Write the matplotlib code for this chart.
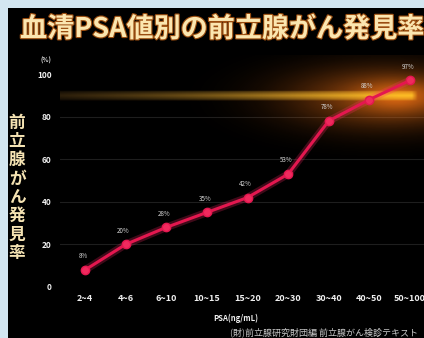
import numpy as np
import matplotlib.pyplot as plt
from matplotlib.patches import Rectangle
import matplotlib.patheffects as pe

plt.rcParams['font.family'] = ['Noto Sans CJK JP', 'DejaVu Sans']

# data
categories = ['2~4', '4~6', '6~10', '10~15', '15~20', '20~30', '30~40', '40~50', '50~100']
rates = [8, 20, 28, 35, 42, 53, 78, 88, 97]
yticks = [0, 20, 40, 60, 80, 100]
ref_level = 90

W, H = 424, 338
fig = plt.figure(figsize=(W / 100, H / 100), dpi=100, facecolor='#d3e6f1')
# black panel
fig.patches.append(Rectangle((8 / W, 0), 1, (H - 8) / H, transform=fig.transFigure,
                             facecolor='black', edgecolor='none', zorder=-1))

ax = fig.add_axes([60 / W, (H - 290) / H, 364 / W, 235 / H], zorder=2)
ax.set_facecolor('none')
xpx = 40.6   # px per category
ypx = 2.13   # px per percent
x0, x1 = -25 / xpx, 8 + 14 / xpx
y0, y1 = -3 / ypx, 100 + 19 / ypx
ax.set_xlim(x0, x1)
ax.set_ylim(y0, y1)
for s in ax.spines.values():
    s.set_visible(False)

# glow + highlighted band at ref level
gx = np.linspace(x0, x1, 500)
gy = np.linspace(y0, y1, 320)
X, Y = np.meshgrid(gx, gy)
PX = (X - x0) * xpx + 60
PY = (Y - y0) * ypx
PYref = (ref_level - y0) * ypx
glow_a = 0.55 * np.exp(-(((PX - 385) / 95) ** 2 + ((PY - PYref + 2) / 30) ** 2)) \
    + 0.35 * np.exp(-(((PX - 400) / 40) ** 2 + ((PY - PYref) / 16) ** 2))
glow_a = np.clip(glow_a, 0, 0.85)
band_half = 5.0
band_core = np.clip(1.0 - np.abs(Y - ref_level) * ypx / band_half, 0, 1) ** 0.5
ramp = np.clip((PX - 60) / 340, 0, 1)
band_a = band_core * (0.3 + 0.7 * ramp) * np.clip((418 - PX) / 6, 0, 1)
glow_rgb = np.array([0.95, 0.45, 0.08])
band_rgb_l = np.array([0.6, 0.42, 0.15])
band_rgb_r = np.array([1.0, 0.75, 0.15])
band_rgb = band_rgb_l[None, None, :] * (1 - ramp[..., None]) + band_rgb_r[None, None, :] * ramp[..., None]
out_a = band_a + glow_a * (1 - band_a)
out_rgb = (band_rgb * band_a[..., None] + glow_rgb * (glow_a * (1 - band_a))[..., None]) / np.maximum(out_a, 1e-6)[..., None]
img = np.dstack([out_rgb, out_a])
ax.imshow(img, extent=[x0, x1, y0, y1], origin='lower', aspect='auto', zorder=1)

# faint grid
for yv in yticks[1:-1]:
    ax.axhline(yv, color='#1e1e1e', lw=0.8, zorder=0.5)

x = np.arange(len(categories))
ax.plot(x, rates, color='#ff2a66', lw=5.5, alpha=0.25, zorder=3, solid_capstyle='round')
ax.plot(x, rates, color='#e3174f', lw=2.2, marker='o', ms=6, mfc='#f02a5e', mec='#e3174f', zorder=4)
for xi, v in zip(x, rates):
    ax.annotate(f'{v}%', (xi, v), xytext=(-1.5, 7), textcoords='offset points',
                ha='center', va='bottom', fontsize=4.5, color='#d5d5d5', zorder=6)

ax.set_xticks(x)
ax.set_xticklabels(categories, fontsize=6.5, color='#f0f0f0', fontweight='bold')
ax.set_yticks(yticks)
ax.set_yticklabels([str(t) for t in yticks], fontsize=6, color='#f0f0f0', fontweight='bold')
ax.tick_params(length=0)
ax.tick_params(axis='x', pad=3)
ax.tick_params(axis='y', pad=6)

# texts
title = fig.text(20 / W, 1 - 29 / H, '血清PSA値別の前立腺がん発見率', fontsize=19.5,
                 fontweight='bold', color='#fbe6b0', va='center', ha='left')
title.set_path_effects([pe.withStroke(linewidth=1.6, foreground='#9a4d10')])
fig.text(17 / W, 1 - 188 / H, '\n'.join('前立腺がん発見率'), fontsize=12, fontweight='bold',
         color='#f5e3b3', ha='center', va='center', linespacing=1.05)
fig.text(46 / W, 1 - 60 / H, '(%)', fontsize=4.5, color='#e0e0e0', ha='center', va='center',
         fontweight='bold')
fig.text(236 / W, 1 - 318 / H, 'PSA(ng/mL)', fontsize=5.5, color='#f0f0f0', ha='center',
         va='center', fontweight='bold')
fig.text(230 / W, 1 - 332 / H, '(財)前立腺研究財団編 前立腺がん検診テキスト', fontsize=6.5,
         color='#c8c8c8', ha='left', va='center')

fig.savefig('out.png', dpi=100, facecolor=fig.get_facecolor())
